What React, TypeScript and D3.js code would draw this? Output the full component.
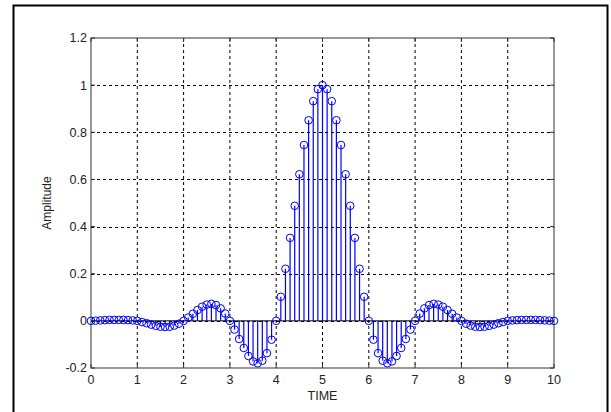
import React from "react";
import * as d3 from "d3";

const TIME: number[] = d3.range(0, 101).map((i) => i / 10);
const AMPLITUDE: number[] = [
  0, 0.001, 0.002, 0.003, 0.004, 0.004, 0.004, 0.004, 0.003, 0.002,
  0, -0.005, -0.01, -0.016, -0.021, -0.025, -0.026, -0.025, -0.02, -0.012,
  0, 0.014, 0.03, 0.046, 0.06, 0.069, 0.072, 0.067, 0.053, 0.031,
  0, -0.037, -0.077, -0.115, -0.149, -0.172, -0.18, -0.169, -0.137, -0.08,
  0, 0.102, 0.221, 0.352, 0.488, 0.622, 0.746, 0.851, 0.932, 0.983,
  1,
  0.983, 0.932, 0.851, 0.746, 0.622, 0.488, 0.352, 0.221, 0.102, 0,
  -0.08, -0.137, -0.169, -0.18, -0.172, -0.149, -0.115, -0.077, -0.037, 0,
  0.031, 0.053, 0.067, 0.072, 0.069, 0.06, 0.046, 0.03, 0.014, 0,
  -0.012, -0.02, -0.025, -0.026, -0.025, -0.021, -0.016, -0.01, -0.005, 0,
  0.002, 0.003, 0.004, 0.004, 0.004, 0.004, 0.003, 0.002, 0.001, 0,
];
const X_TICKS: number[] = [0, 1, 2, 3, 4, 5, 6, 7, 8, 9, 10];
const Y_TICKS: number[] = [-0.2, 0, 0.2, 0.4, 0.6, 0.8, 1, 1.2];
const X_LABEL = "TIME";
const Y_LABEL = "Amplitude";

const W = 611;
const H = 412;
const L = 91;
const R = 554;
const T = 38;
const B = 368;
const FONT = "'Liberation Sans', Arial, Helvetica, sans-serif";

export default function App() {
  const x = d3.scaleLinear().domain([0, 10]).range([L, R]);
  const y = d3.scaleLinear().domain([-0.2, 1.2]).range([B, T]);
  const fmt = (v: number) => {
    const s = d3.format("~g")(+v.toFixed(2));
    return s.replace("−", "-");
  };
  return (
    <svg
      width={W}
      height={H}
      style={{ position: "absolute", left: 0, top: 0, background: "#fff" }}
    >
      <rect x={0} y={0} width={W} height={H} fill="#fff" />
      <rect x={13.5} y={5.5} width={594} height={430} fill="none" stroke="#000" strokeWidth={2} />
      {/* grid */}
      {X_TICKS.filter((t) => t > 0 && t < 10).map((t) => (
        <line key={"gx" + t} x1={x(t)} x2={x(t)} y1={T} y2={B} stroke="#000" strokeWidth={1} strokeDasharray="3,3" />
      ))}
      {Y_TICKS.filter((t) => t > -0.2 && t < 1.2).map((t) => (
        <line key={"gy" + t} x1={L} x2={R} y1={Math.round(y(t)) + 0.5} y2={Math.round(y(t)) + 0.5} stroke="#000" strokeWidth={1} strokeDasharray="3,3" />
      ))}
      {/* stems */}
      {TIME.map((t, i) => (
        <line key={"s" + i} x1={x(t)} x2={x(t)} y1={y(0)} y2={y(AMPLITUDE[i])} stroke="#0000ff" strokeWidth={1.2} />
      ))}
      {/* baseline */}
      <line x1={x(0)} x2={x(10)} y1={y(0)} y2={y(0)} stroke="#000" strokeWidth={1} />
      {/* markers */}
      {TIME.map((t, i) => (
        <circle key={"c" + i} cx={x(t)} cy={y(AMPLITUDE[i])} r={3.8} fill="none" stroke="#0000ff" strokeWidth={1} />
      ))}
      {/* axes box */}
      <rect x={L} y={T} width={R - L} height={B - T} fill="none" stroke="#333" strokeWidth={1} />
      {/* ticks */}
      {X_TICKS.map((t) => (
        <g key={"tx" + t}>
          <line x1={x(t)} x2={x(t)} y1={B} y2={B - 4} stroke="#333" />
          <line x1={x(t)} x2={x(t)} y1={T} y2={T + 4} stroke="#333" />
          <text x={x(t)} y={384} textAnchor="middle" fontFamily={FONT} fontSize={12.5} fill="#222">
            {fmt(t)}
          </text>
        </g>
      ))}
      {Y_TICKS.map((t) => (
        <g key={"ty" + t}>
          <line x1={L} x2={L + 4} y1={y(t)} y2={y(t)} stroke="#333" />
          <line x1={R} x2={R - 4} y1={y(t)} y2={y(t)} stroke="#333" />
          <text x={87} y={y(t)} dy="0.35em" textAnchor="end" fontFamily={FONT} fontSize={12.5} fill="#222">
            {fmt(t)}
          </text>
        </g>
      ))}
      <text x={(L + R) / 2} y={400} textAnchor="middle" fontFamily={FONT} fontSize={12.5} fill="#222">
        {X_LABEL}
      </text>
      <text
        transform={`translate(51, ${(T + B) / 2}) rotate(-90)`}
        textAnchor="middle"
        fontFamily={FONT}
        fontSize={12}
        fill="#222"
      >
        {Y_LABEL}
      </text>
    </svg>
  );
}
